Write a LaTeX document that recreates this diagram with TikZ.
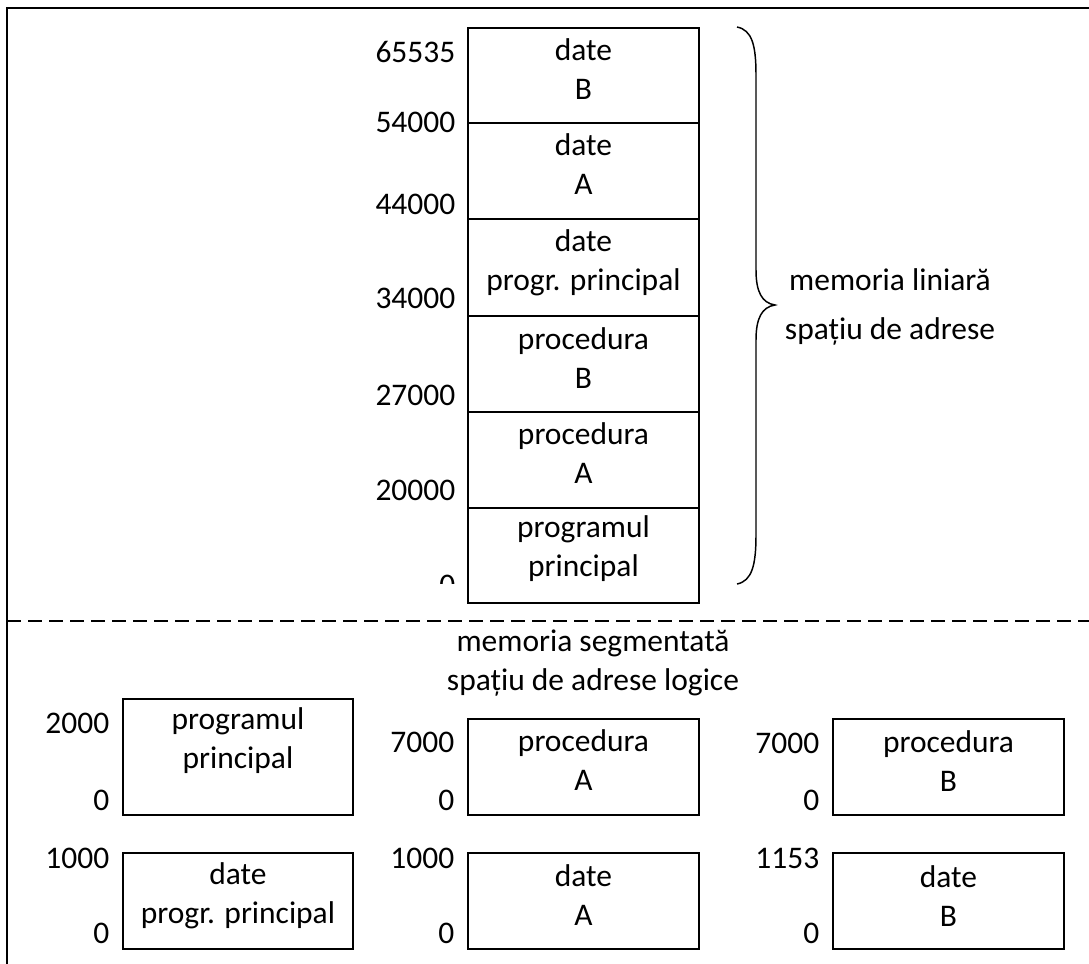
\documentclass[tikz,border=0pt]{standalone}
\usepackage{fontspec}
\setmainfont{Carlito}

\begin{document}
\begin{tikzpicture}[x=0.75pt,y=-0.75pt,line width=1.1pt,
  every node/.style={font=\fontsize{23.6pt}{29.25pt}\selectfont, inner sep=0pt},
  cell/.style={align=center},
  addr/.style={anchor=east}]
\useasboundingbox (0,0) rectangle (1089,964);
% Frame
\draw (1089,8) -- (7,8) -- (7,964);
% Dashed separator
\draw [dash pattern=on 10.5pt off 5.25pt, line width=0.9pt] (7,621) -- (1089,621);
%
% Linear memory column
\draw (468,28) rectangle (699,603);
\foreach \y in {123,219,316,412,508}
  \draw (468,\y) -- (699,\y);
% Cells
\node [cell] (datB) at (583.5,69) {date\\B};
\node [cell] (datA) at (583.5,164) {date\\A};
\node [cell] (datP) at (583.5,262.5) {date\\progr. principal};
\node [cell] (procB) at (583.5,358) {procedura\\B};
\node [cell] (procA) at (583.5,453) {procedura\\A};
\node [cell] (progP) at (583.5,549) {programul\\principal};
% Addresses
\node [addr] (a65535) at (456,52) {65535};
\node [addr] (a54000) at (456,122) {54000};
\node [addr] (a44000) at (456,204) {44000};
\node [addr] (a34000) at (456,298) {34000};
\node [addr] (a27000) at (456,395) {27000};
\node [addr] (a20000) at (456,490) {20000};
% Address "0", cut off
\begin{scope}
\clip (380,560) rectangle (460,583);
\node [addr] (a0) at (456,585) {0};
\end{scope}
%
% Brace
\draw (737,27) .. controls (752,30) and (756,45) .. (756,75) -- (756,270)
  .. controls (756,292) and (762,303) .. (775,305)
  .. controls (762,307) and (756,318) .. (756,340) -- (756,535)
  .. controls (756,565) and (752,581) .. (737,584);
% Label "memoria liniara"
\node (lin) at (890,280) {memoria liniară};
% Label "spatiu de adrese"
\node (spa) at (890,331) {spațiu de adrese};
%
% Label "memoria segmentata"
\node [cell] (seg) at (593,663) {memoria segmentată\\spațiu de adrese logice};
%
% Segments, first row
\draw (123,699) rectangle (353,815);
\draw (468,719) rectangle (699,815);
\draw (833,719) rectangle (1064,815);
\node [cell] (sProgP) at (238,741) {programul\\principal};
\node [cell] (sProcA) at (583.5,760) {procedura\\A};
\node [cell] (sProcB) at (948.5,761) {procedura\\B};
\node [addr] (t1) at (110,723) {2000};
\node [addr] (b1) at (110,800) {0};
\node [addr] (t2) at (455,742) {7000};
\node [addr] (b2) at (455,800) {0};
\node [addr] (t3) at (820,743) {7000};
\node [addr] (b3) at (820,800) {0};
%
% Segments, second row
\draw (123,853) rectangle (353,949);
\draw (468,853) rectangle (699,949);
\draw (833,853) rectangle (1064,949);
\node [cell] (sDatP) at (238,895.5) {date\\progr. principal};
\node [cell] (sDatA) at (583.5,895.5) {date\\A};
\node [cell] (sDatB) at (948.5,896) {date\\B};
\node [addr] (t4) at (110,858) {1000};
\node [addr] (b4) at (110,933) {0};
\node [addr] (t5) at (455,858) {1000};
\node [addr] (b5) at (455,933) {0};
\node [addr] (t6) at (820,858) {1153};
\node [addr] (b6) at (820,933) {0};
\end{tikzpicture}
\end{document}
